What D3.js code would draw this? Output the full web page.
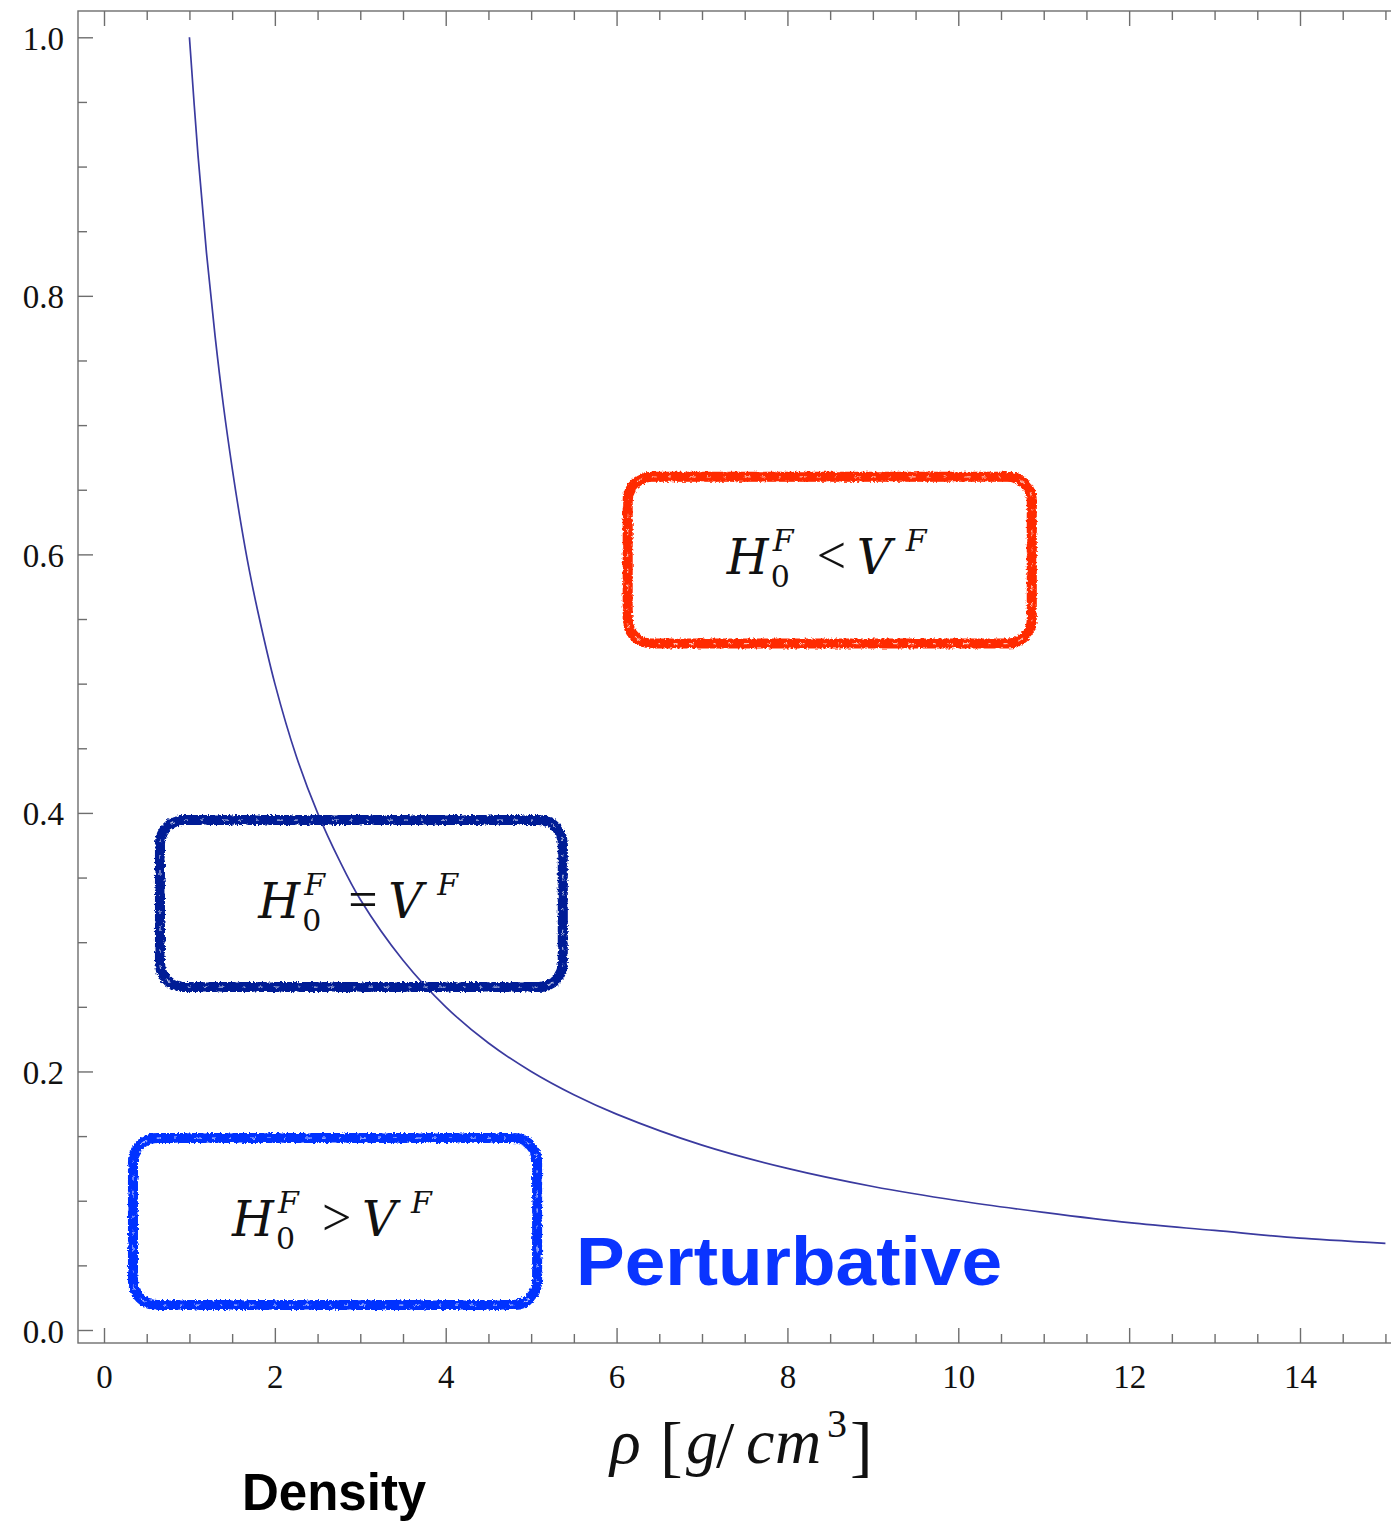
<!DOCTYPE html>
<html>
<head>
<meta charset="utf-8">
<script src="https://cdn.jsdelivr.net/npm/d3@7"></script>
<style>
  html, body { margin: 0; padding: 0; background: #fff; }
  svg { display: block; }
</style>
</head>
<body>
<script>
// ---- data ----
const rho = [1, 1.1, 1.2, 1.3, 1.4, 1.5, 1.6, 1.7, 1.8, 2.0, 2.25, 2.5, 2.75, 3.0, 3.5, 4.0, 4.5, 5.0, 5.5, 6.0, 7.0, 8.0, 9.0, 10.0, 11.0, 12.0, 13.0, 14.0, 15.0];
const bound = [1.0, 0.909, 0.833, 0.769, 0.714, 0.667, 0.625, 0.588, 0.556, 0.5, 0.444, 0.4, 0.364, 0.333, 0.286, 0.25, 0.222, 0.2, 0.182, 0.167, 0.143, 0.125, 0.111, 0.1, 0.091, 0.083, 0.077, 0.071, 0.067];
const xTickValues = [0, 2, 4, 6, 8, 10, 12, 14];
const xTickLabels = ["0", "2", "4", "6", "8", "10", "12", "14"];
const yTickValues = [0, 0.2, 0.4, 0.6, 0.8, 1.0];
const yTickLabels = ["0.0", "0.2", "0.4", "0.6", "0.8", "1.0"];
// regions (data units): x0, x1, y0 (top), y1 (bottom)
const regionNames = ["lt", "eq", "gt"];
const regionRelations = ["<", "=", ">"];
const regionX0 = [6.13, 0.655, 0.339];
const regionX1 = [10.86, 5.37, 5.07];
const regionYTop = [0.660, 0.3945, 0.1485];
const regionYBot = [0.531, 0.2653, 0.0193];
const regionColors = ["#ff2a00", "#001e96", "#0433ff"];

const W = 1391, H = 1521;
const svg = d3.select("body").append("svg").attr("width", W).attr("height", H);

const defs = svg.append("defs");
const f = defs.append("filter").attr("id", "crayon")
  .attr("x", "-5%").attr("y", "-10%").attr("width", "110%").attr("height", "120%");
f.append("feTurbulence").attr("type", "fractalNoise").attr("baseFrequency", "0.45")
  .attr("numOctaves", 2).attr("seed", 7).attr("result", "noise");
f.append("feDisplacementMap").attr("in", "SourceGraphic").attr("in2", "noise")
  .attr("scale", 4).attr("xChannelSelector", "R").attr("yChannelSelector", "G");

const x = d3.scaleLinear().domain([0, 14]).range([104, 1300]);
const y = d3.scaleLinear().domain([0, 1]).range([1330, 37.3]);
const frameL = 78, frameR = 1392, frameT = 11, frameB = 1343;

const axisColor = "#6e6e6e";

// frame
svg.append("rect").attr("x", frameL).attr("y", frameT)
  .attr("width", frameR - frameL).attr("height", frameB - frameT)
  .attr("fill", "none").attr("stroke", axisColor).attr("stroke-width", 1.4);

// ticks
const xMinor = d3.range(0, 15.01, 0.5).filter(v => !xTickValues.includes(v));
const yMinor = d3.range(0, 1.001, 0.05).map(v => +v.toFixed(2)).filter(v => !yTickValues.some(t => Math.abs(t - v) < 1e-6));

const bottomMajor = d3.axisBottom(x).tickValues(xTickValues).tickSize(-15).tickSizeOuter(0).tickFormat((d, i) => xTickLabels[i]);
const bottomMinor = d3.axisBottom(x).tickValues(xMinor).tickSize(-9).tickSizeOuter(0).tickFormat("");
const topMajor = d3.axisTop(x).tickValues(xTickValues).tickSize(-15).tickSizeOuter(0).tickFormat("");
const topMinor = d3.axisTop(x).tickValues(xMinor).tickSize(-9).tickSizeOuter(0).tickFormat("");
const leftMajor = d3.axisLeft(y).tickValues(yTickValues).tickSize(-15).tickSizeOuter(0).tickFormat((d, i) => yTickLabels[i]);
const leftMinor = d3.axisLeft(y).tickValues(yMinor).tickSize(-9).tickSizeOuter(0).tickFormat("");

function styleAxis(g) {
  g.select(".domain").remove();
  g.selectAll(".tick line").attr("stroke", axisColor).attr("stroke-width", 1.4);
}

const tickFont = "'Liberation Serif', 'Times New Roman', serif";
const gb = svg.append("g").attr("transform", `translate(0,${frameB})`).call(bottomMajor).call(styleAxis);
gb.selectAll(".tick text").attr("y", 45).attr("dy", 0)
  .style("font-family", tickFont).style("font-size", "33px").attr("fill", "#111");
svg.append("g").attr("transform", `translate(0,${frameB})`).call(bottomMinor).call(styleAxis);
svg.append("g").attr("transform", `translate(0,${frameT})`).call(topMajor).call(styleAxis);
svg.append("g").attr("transform", `translate(0,${frameT})`).call(topMinor).call(styleAxis);
const gl = svg.append("g").attr("transform", `translate(${frameL},0)`).call(leftMajor).call(styleAxis);
gl.selectAll(".tick text").attr("x", -14).attr("dy", 0).attr("y", 12)
  .style("font-family", tickFont).style("font-size", "33px").attr("fill", "#111");
svg.append("g").attr("transform", `translate(${frameL},0)`).call(leftMinor).call(styleAxis);

// curve
const lineData = rho.map((r, i) => [r, bound[i]]);
svg.append("path").datum(lineData)
  .attr("d", d3.line().x(d => x(d[0])).y(d => y(d[1])).curve(d3.curveCatmullRom.alpha(0.5)))
  .attr("fill", "none").attr("stroke", "#3a3a9f").attr("stroke-width", 1.7);

// region boxes
const mathFont = "'DejaVu Serif', 'Liberation Serif', serif";
regionNames.forEach((name, i) => {
  const bx0 = x(regionX0[i]), bx1 = x(regionX1[i]);
  const by0 = y(regionYTop[i]), by1 = y(regionYBot[i]);
  const col = regionColors[i];
  const g = svg.append("g").attr("class", "region-" + name).attr("filter", "url(#crayon)");
  g.append("rect").attr("x", bx0).attr("y", by0).attr("width", bx1 - bx0).attr("height", by1 - by0)
    .attr("rx", 24).attr("ry", 24).attr("fill", "none").attr("stroke", col).attr("stroke-width", 9);
  g.append("rect").attr("x", bx0 - 3.5).attr("y", by0 - 3.5).attr("width", bx1 - bx0 + 7).attr("height", by1 - by0 + 7)
    .attr("rx", 27).attr("ry", 27).attr("fill", "none").attr("stroke", col).attr("stroke-width", 3)
    .attr("stroke-dasharray", "31 4 12 3 22 5");
  g.append("rect").attr("x", bx0 + 3.5).attr("y", by0 + 3.5).attr("width", bx1 - bx0 - 7).attr("height", by1 - by0 - 7)
    .attr("rx", 21).attr("ry", 21).attr("fill", "none").attr("stroke", col).attr("stroke-width", 3)
    .attr("stroke-dasharray", "18 3 27 4 9 2");
  g.append("rect").attr("x", bx0).attr("y", by0).attr("width", bx1 - bx0).attr("height", by1 - by0)
    .attr("rx", 24).attr("ry", 24).attr("fill", "none").attr("stroke", "#fff").attr("stroke-width", 1.2)
    .attr("stroke-opacity", 0.7).attr("stroke-dasharray", "4 13 2 19 6 11");

  // math label
  const cx = (bx0 + bx1) / 2, cy = (by0 + by1) / 2;
  const x0 = cx - 103, base = cy + 14;
  const t = svg.append("g").attr("class", "label-" + name).style("font-family", mathFont).attr("fill", "#111");
  t.append("text").attr("x", x0).attr("y", base).style("font-style", "italic").style("font-size", "48px").text("H");
  t.append("text").attr("x", x0 + 46).attr("y", base - 23).style("font-style", "italic").style("font-size", "30px").text("F");
  t.append("text").attr("x", x0 + 44).attr("y", base + 13).style("font-size", "30px").text("0");
  t.append("text").attr("x", x0 + 90).attr("y", base - 1).style("font-family", "'Liberation Serif', serif")
    .style("font-size", "52px").text(regionRelations[i]);
  t.append("text").attr("x", x0 + 130).attr("y", base).style("font-style", "italic").style("font-size", "48px").text("V");
  t.append("text").attr("x", x0 + 179).attr("y", base - 23).style("font-style", "italic").style("font-size", "30px").text("F");
});

// Perturbative
svg.append("text").attr("x", 576).attr("y", 1285)
  .style("font-family", "'Liberation Sans', Arial, sans-serif").style("font-weight", "bold").style("font-size", "68px")
  .attr("fill", "#0a34ff").attr("textLength", 426).attr("lengthAdjust", "spacingAndGlyphs").text("Perturbative");

// Density
svg.append("text").attr("x", 242).attr("y", 1510)
  .style("font-family", "'Liberation Sans', Arial, sans-serif").style("font-weight", "bold").style("font-size", "51px")
  .attr("fill", "#000").text("Density");

// x-axis title: ρ [g/cm^3]
const xt = svg.append("g").style("font-family", "'Liberation Serif', serif").attr("fill", "#111");
const tb = 1463;
xt.append("text").attr("x", 610).attr("y", tb).style("font-style", "italic").style("font-size", "64px").text("ρ");
xt.append("text").attr("x", 660).attr("y", tb + 6).style("font-size", "68px").text("[");
xt.append("text").attr("x", 686).attr("y", tb).style("font-style", "italic").style("font-size", "64px").text("g");
xt.append("text").attr("x", 716).attr("y", tb + 4).style("font-size", "66px").text("/");
xt.append("text").attr("x", 746).attr("y", tb).style("font-style", "italic").style("font-size", "64px").text("c");
xt.append("text").attr("x", 775).attr("y", tb).style("font-style", "italic").style("font-size", "64px").text("m");
xt.append("text").attr("x", 827).attr("y", tb - 26).style("font-size", "40px").text("3");
xt.append("text").attr("x", 850).attr("y", tb + 6).style("font-size", "68px").text("]");
</script>
</body>
</html>
